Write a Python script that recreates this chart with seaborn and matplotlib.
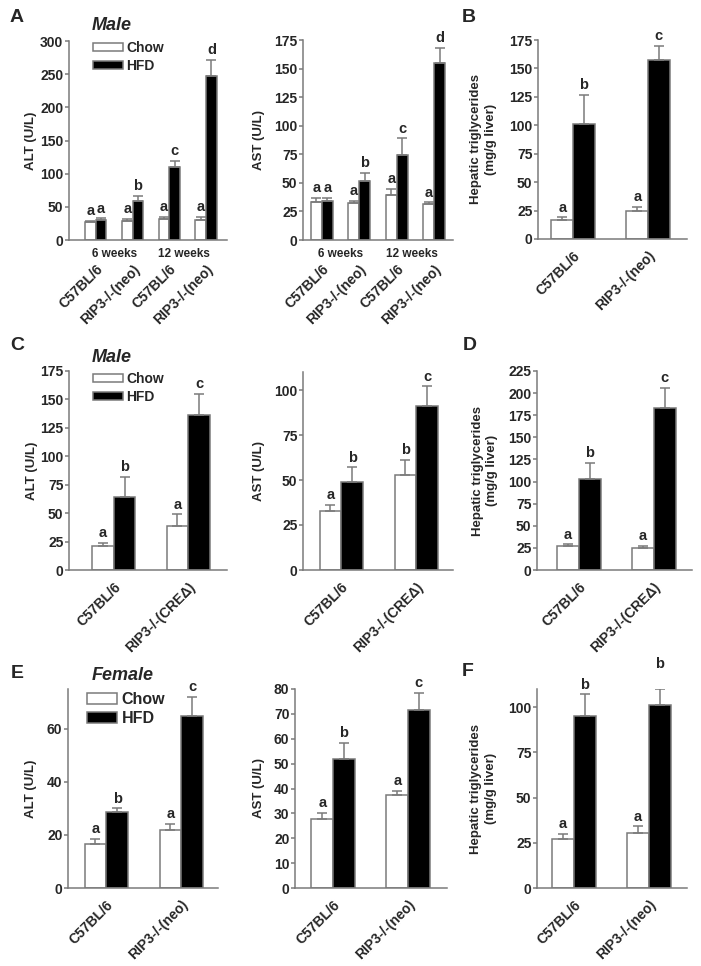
import numpy as np
import pandas as pd
import seaborn as sns
import matplotlib.pyplot as plt

diets = ["Chow", "HFD"]
colors = {"Chow": "white", "HFD": "black"}
GREY = "#7a7a7a"

# A: male mice after 6 and 12 weeks of diet
a_groups = ["6w C57BL/6", "6w RIP3-/-(neo)", "12w C57BL/6", "12w RIP3-/-(neo)"]
a_ticks = ["C57BL/6", "RIP3-/-(neo)", "C57BL/6", "RIP3-/-(neo)"]
a_weeks = ["6 weeks", "12 weeks"]
a_alt_chow = [27, 29, 31.5, 30.5]
a_alt_chow_sem = [2, 3, 3.5, 4]
a_alt_hfd = [29.5, 58.5, 110, 247]
a_alt_hfd_sem = [3, 7.5, 9, 25]
a_alt_letters = [["a", "a", "a", "a"], ["a", "b", "c", "d"]]
a_ast_chow = [33, 32.5, 39.5, 31.5]
a_ast_chow_sem = [4, 2, 5, 1.5]
a_ast_hfd = [34, 52, 74, 155]
a_ast_hfd_sem = [3, 7, 15, 13]
a_ast_letters = [["a", "a", "a", "a"], ["a", "b", "c", "d"]]

# B: hepatic triglycerides, male
b_groups = ["C57BL/6", "RIP3-/-(neo)"]
b_tg_chow = [17, 25]
b_tg_chow_sem = [2, 3]
b_tg_hfd = [101, 157]
b_tg_hfd_sem = [26, 13]
b_letters = [["a", "a"], ["b", "c"]]

# C / D: male, CRE deleted line
cd_groups = ["C57BL/6", "RIP3-/-(CREΔ)"]
c_alt_chow = [21, 39]
c_alt_chow_sem = [3, 10]
c_alt_hfd = [64, 136]
c_alt_hfd_sem = [18, 19]
c_alt_letters = [["a", "a"], ["b", "c"]]
c_ast_chow = [33, 53]
c_ast_chow_sem = [3, 8]
c_ast_hfd = [49, 91]
c_ast_hfd_sem = [8, 11]
c_ast_letters = [["a", "b"], ["b", "c"]]
d_tg_chow = [27, 25]
d_tg_chow_sem = [2, 2.5]
d_tg_hfd = [103, 183]
d_tg_hfd_sem = [18, 23]
d_letters = [["a", "a"], ["b", "c"]]

# E / F: female
ef_groups = ["C57BL/6", "RIP3-/-(neo)"]
e_alt_chow = [16.5, 22]
e_alt_chow_sem = [2, 2.2]
e_alt_hfd = [28.5, 65]
e_alt_hfd_sem = [1.5, 7]
e_alt_letters = [["a", "a"], ["b", "c"]]
e_ast_chow = [27.8, 37.3]
e_ast_chow_sem = [2.5, 1.7]
e_ast_hfd = [51.7, 71.5]
e_ast_hfd_sem = [6.7, 7]
e_ast_letters = [["a", "a"], ["b", "c"]]
f_tg_chow = [27, 30.5]
f_tg_chow_sem = [3, 3.5]
f_tg_hfd = [95, 101]
f_tg_hfd_sem = [12, 9]
f_letters = [["a", "a"], ["b", "b"]]

TG_LABEL = "Hepatic triglycerides\n(mg/g liver)"


def bars(ax, groups, chow, chow_sem, hfd, hfd_sem, letters, lift=None):
    df = pd.DataFrame({
        "group": groups + groups,
        "diet": ["Chow"] * len(groups) + ["HFD"] * len(groups),
        "value": chow + hfd,
    })
    sns.barplot(data=df, x="group", y="value", hue="diet", order=groups,
                hue_order=diets, palette=colors, width=0.58, edgecolor=GREY,
                linewidth=1.1, errorbar=None, legend=False, ax=ax)
    conts = list(ax.containers[:2])
    for i, (cont, sem) in enumerate(zip(conts, [chow_sem, hfd_sem])):
        xs = [p.get_x() + p.get_width() / 2 for p in cont.patches]
        ys = [p.get_height() for p in cont.patches]
        ax.errorbar(xs, ys, yerr=[[0] * len(sem), sem], fmt="none",
                    ecolor=GREY, elinewidth=1.1, capsize=3.5, capthick=1.1)
        for j, (x, y, e) in enumerate(zip(xs, ys, sem)):
            dy = 2 + (lift.get((i, j), 0) if lift else 0)
            ax.annotate(letters[i][j], (x, y + e), xytext=(0, dy),
                        textcoords="offset points", ha="center", va="bottom",
                        fontsize=10.5, annotation_clip=False)
    return conts


def style(ax, ylim, yticks, ylabel, label_x, xlim, ticks, pad=7):
    ax.set_ylim(*ylim)
    ax.set_yticks(yticks)
    ax.set_xlim(*xlim)
    ax.set_xlabel("")
    ax.set_ylabel(ylabel, fontsize=9.5, linespacing=1.3)
    ax.yaxis.set_label_coords(label_x, 0.5)
    ax.set_xticks(range(len(ticks)))
    ax.set_xticklabels(ticks, rotation=45, ha="right", rotation_mode="anchor",
                       fontsize=10)
    ax.tick_params(axis="x", length=0, pad=pad)
    ax.tick_params(axis="y", length=3, width=1.1, color=GREY, labelsize=10, pad=1)
    sns.despine(ax=ax)
    for s in ("left", "bottom"):
        ax.spines[s].set_color(GREY)
        ax.spines[s].set_linewidth(1.1)


def legend(ax, conts, x, y, size, hl, hh, ls):
    handles = [c.patches[0] for c in conts]
    ax.legend(handles, diets, loc="upper left", bbox_to_anchor=(x, y),
              frameon=False, fontsize=size, handlelength=hl, handleheight=hh,
              handletextpad=0.25, labelspacing=ls, borderpad=0, borderaxespad=0)


def rect(l, t, r, b):
    return [l / 701, 1 - b / 966, (r - l) / 701, (b - t) / 966]


sns.set_style("ticks")
plt.rcParams["font.family"] = ["Liberation Sans", "DejaVu Sans"]
plt.rcParams["font.weight"] = "bold"
plt.rcParams["axes.labelweight"] = "bold"

fig = plt.figure(figsize=(7.01, 9.66), dpi=100)

# ---- row 1
ax = fig.add_axes(rect(69, 41, 227, 240))
conts = bars(ax, a_groups, a_alt_chow, a_alt_chow_sem, a_alt_hfd, a_alt_hfd_sem, a_alt_letters)
style(ax, (0, 300), range(0, 301, 50), "ALT (U/L)", -0.20, (-0.73, 3.57), a_ticks, pad=16)
legend(ax, conts, 0.15, 1.0, 10, 2.15, 0.55, 0.3)
for xw, w in zip([0.5, 2.4], a_weeks):
    ax.annotate(w, (xw, 0), xycoords=("data", "axes fraction"), xytext=(0, -10),
                textcoords="offset points", ha="center", va="center", fontsize=8.5)

ax = fig.add_axes(rect(303, 40, 453, 240))
bars(ax, a_groups, a_ast_chow, a_ast_chow_sem, a_ast_hfd, a_ast_hfd_sem, a_ast_letters)
style(ax, (0, 175), range(0, 176, 25), "AST (U/L)", -0.253, (-0.5, 3.5), a_ticks, pad=16)
for xw, w in zip([0.5, 2.4], a_weeks):
    ax.annotate(w, (xw, 0), xycoords=("data", "axes fraction"), xytext=(0, -10),
                textcoords="offset points", ha="center", va="center", fontsize=8.5)

ax = fig.add_axes(rect(538, 40, 687, 239))
bars(ax, b_groups, b_tg_chow, b_tg_chow_sem, b_tg_hfd, b_tg_hfd_sem, b_letters)
style(ax, (0, 175), range(0, 176, 25), TG_LABEL, -0.275, (-0.47, 1.52), b_groups)

# ---- row 2
ax = fig.add_axes(rect(69, 371, 227, 570))
conts = bars(ax, cd_groups, c_alt_chow, c_alt_chow_sem, c_alt_hfd, c_alt_hfd_sem, c_alt_letters)
style(ax, (0, 175), range(0, 176, 25), "ALT (U/L)", -0.195, (-0.6, 1.52), cd_groups)
legend(ax, conts, 0.15, 0.995, 10, 2.15, 0.55, 0.3)

ax = fig.add_axes(rect(303, 372, 453, 570))
bars(ax, cd_groups, c_ast_chow, c_ast_chow_sem, c_ast_hfd, c_ast_hfd_sem, c_ast_letters)
style(ax, (0, 110), range(0, 101, 25), "AST (U/L)", -0.253, (-0.51, 1.49), cd_groups)

ax = fig.add_axes(rect(537, 371, 692, 570))
bars(ax, cd_groups, d_tg_chow, d_tg_chow_sem, d_tg_hfd, d_tg_hfd_sem, d_letters)
style(ax, (0, 225), range(0, 226, 25), TG_LABEL, -0.25, (-0.56, 1.51), cd_groups)

# ---- row 3
ax = fig.add_axes(rect(68, 689, 218, 888))
conts = bars(ax, ef_groups, e_alt_chow, e_alt_chow_sem, e_alt_hfd, e_alt_hfd_sem, e_alt_letters)
style(ax, (0, 75), range(0, 61, 20), "ALT (U/L)", -0.207, (-0.51, 1.49), ef_groups)
legend(ax, conts, 0.127, 0.985, 11.5, 1.9, 0.68, 0.25)

ax = fig.add_axes(rect(295, 689, 447, 888))
bars(ax, ef_groups, e_ast_chow, e_ast_chow_sem, e_ast_hfd, e_ast_hfd_sem, e_ast_letters)
style(ax, (0, 80), range(0, 81, 10), "AST (U/L)", -0.197, (-0.51, 1.52), ef_groups)

ax = fig.add_axes(rect(537, 689, 687, 888))
bars(ax, ef_groups, f_tg_chow, f_tg_chow_sem, f_tg_hfd, f_tg_hfd_sem, f_letters,
     lift={(1, 1): 11})
style(ax, (0, 110), range(0, 101, 25), TG_LABEL, -0.267, (-0.49, 1.51), ef_groups)

# panel letters and sex titles
for lab, x, y in [("A", 17, 17), ("B", 469, 18), ("C", 17, 345),
                  ("D", 470, 346), ("E", 17, 673), ("F", 468, 672)]:
    fig.text(x / 701, 1 - y / 966, lab, fontsize=14, ha="center", va="center")
for lab, x, y in [("Male", 112, 25), ("Male", 112, 358), ("Female", 123, 675)]:
    fig.text(x / 701, 1 - y / 966, lab, fontsize=13, style="italic",
             ha="center", va="center")

fig.savefig("out.png", dpi=100, facecolor="white")
